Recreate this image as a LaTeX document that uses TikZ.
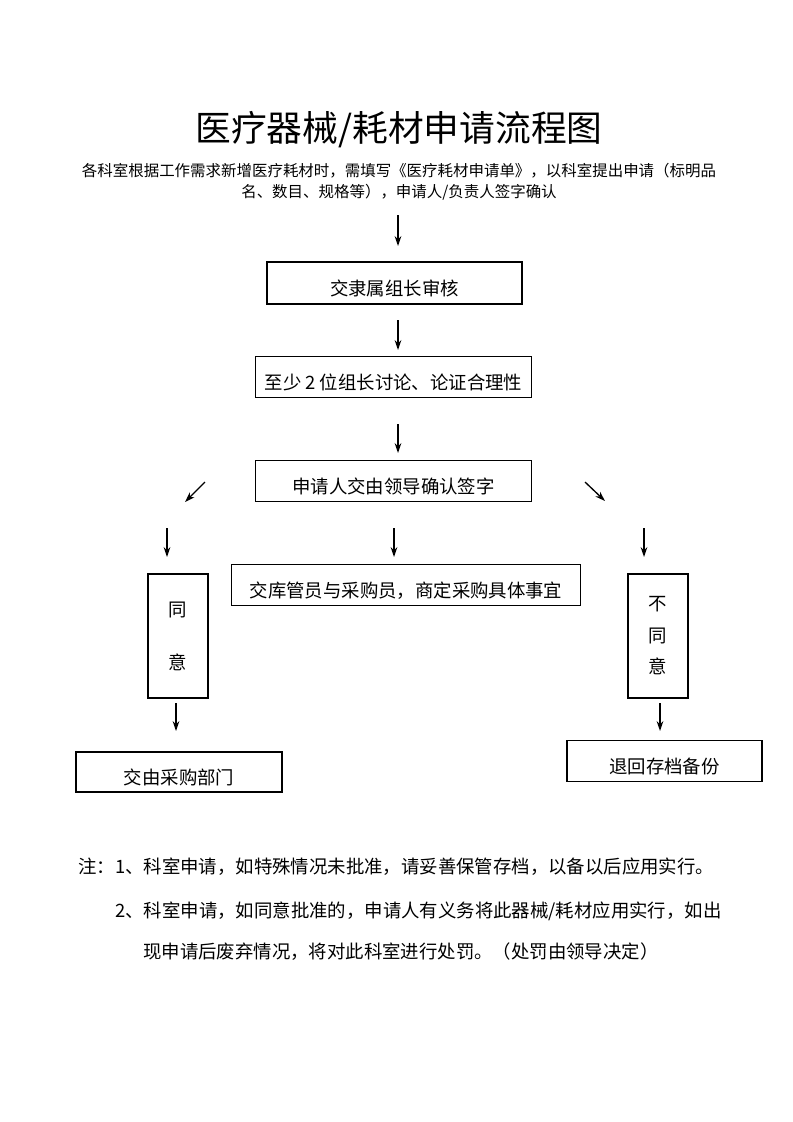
\documentclass[tikz,border=0pt]{standalone}
\usepackage{fontspec}
\setmainfont{Noto Sans CJK SC}
\usepackage{tikz}
\usetikzlibrary{arrows.meta}
\newcommand{\titlefont}{\fontsize{26.8pt}{32pt}\selectfont}
\newcommand{\subfont}{\fontsize{11.6pt}{14pt}\selectfont}
\newcommand{\boxfont}{\fontsize{13.8pt}{16.6pt}\selectfont}
\tikzset{>/.tip={Stealth[length=7.5pt,width=5pt]}}
\tikzset{box/.style={draw, line width=0.8pt, inner sep=0pt, text height=18pt, text depth=0pt, font=\boxfont}}
\tikzset{vbox/.style={draw, line width=0.8pt, inner sep=0pt, align=center, font=\boxfont}}
\tikzset{boxwh/.style 2 args={minimum width=#1*0.75pt, minimum height=#2*0.75pt}}
\tikzset{flow/.style={->, line width=1pt}}
\tikzset{note/.style={anchor=base west, inner sep=0pt, font=\boxfont}}

\begin{document}
\begin{tikzpicture}[x=0.75pt, y=-0.75pt]
  \useasboundingbox (0,0) rectangle (793,1122);
  % heading
  \node(title) [anchor=base, font=\titlefont] at (399,141) {医疗器械/耗材申请流程图};
  \node(sub1) [anchor=base, font=\subfont] at (399,176) {各科室根据工作需求新增医疗耗材时，需填写《医疗耗材申请单》，以科室提出申请（标明品};
  \node(sub2) [anchor=base, font=\subfont] at (399,197) {名、数目、规格等），申请人/负责人签字确认};
  % boxes
  \node(lead) [box, boxwh={255}{42}] at (394.5,283) {交隶属组长审核};
  \node(discuss) [box, boxwh={276}{41}] at (393.5,377) {至少 2 位组长讨论、论证合理性};
  \node(sign) [box, boxwh={276}{41}] at (393.5,481) {申请人交由领导确认签字};
  \node(buy) [box, boxwh={349}{41}] at (406,585) {交库管员与采购员，商定采购具体事宜};
  \node(agree) [vbox, boxwh={60}{124}] at (178,636) {同\\[23pt]意};
  \node(deny) [vbox, boxwh={60}{124}] at (658,636) {不\\[7pt]同\\[7pt]意};
  \node(dept) [box, boxwh={206}{40}] at (179,772) {交由采购部门};
  \node(back) [box, boxwh={195}{41}] at (664.5,761) {退回存档备份};
  % arrows
  \coordinate(a0s) at (398,215); \coordinate(a0e) at (398,246);
  \coordinate(a1s) at (398,320); \coordinate(a1e) at (398,350);
  \coordinate(a2s) at (398,424); \coordinate(a2e) at (398,453);
  \coordinate(dls) at (205,482); \coordinate(dle) at (185,502);
  \coordinate(drs) at (585,482); \coordinate(dre) at (605,501);
  \coordinate(vls) at (167,528); \coordinate(vle) at (167,557);
  \coordinate(vcs) at (394,528); \coordinate(vce) at (394,557);
  \coordinate(vrs) at (644,528); \coordinate(vre) at (644,557);
  \coordinate(bls) at (176,703); \coordinate(ble) at (176,731);
  \coordinate(brs) at (660,703); \coordinate(bre) at (660,731);
  \path[every edge/.style={draw, flow}]
   (a0s) edge (a0e)
   (a1s) edge (a1e)
   (a2s) edge (a2e)
   (dls) edge (dle)
   (drs) edge (dre)
   (vls) edge (vle)
   (vcs) edge (vce)
   (vrs) edge (vre)
   (bls) edge (ble)
   (brs) edge (bre);
  % notes
  \node(note1) [note] at (78,873) {注：1、科室申请，如特殊情况未批准，请妥善保管存档，以备以后应用实行。};
  \node(note2) [note] at (115,917) {2、科室申请，如同意批准的，申请人有义务将此器械/耗材应用实行，如出};
  \node(note3) [note] at (143,958) {现申请后废弃情况，将对此科室进行处罚。（处罚由领导决定）};
\end{tikzpicture}
\end{document}
